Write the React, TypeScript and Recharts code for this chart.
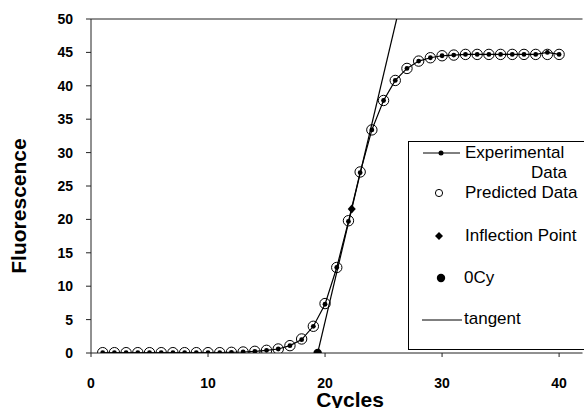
import React from 'react';
import {
  ComposedChart, Line, Scatter, XAxis, YAxis, ReferenceLine, Legend, Label,
} from 'recharts';

const cycles = [1,2,3,4,5,6,7,8,9,10,11,12,13,14,15,16,17,18,19,20,21,22,23,24,25,26,27,28,29,30,31,32,33,34,35,36,37,38,39,40];
const experimental = [0.05,0.05,0.05,0.05,0.05,0.05,0.05,0.05,0.05,0.05,0.05,0.1,0.15,0.25,0.4,0.6,1.1,2.0,4.0,7.3,12.8,19.7,27.0,33.4,37.8,40.8,42.6,43.7,44.2,44.5,44.6,44.7,44.7,44.7,44.7,44.7,44.7,44.7,45.0,44.7];
const predicted = [0.05,0.05,0.05,0.05,0.05,0.05,0.05,0.05,0.05,0.05,0.05,0.1,0.15,0.25,0.4,0.6,1.1,2.1,4.0,7.4,12.8,19.8,27.1,33.4,37.8,40.8,42.6,43.7,44.2,44.5,44.6,44.7,44.7,44.7,44.7,44.7,44.7,44.7,44.7,44.7];
const inflection = { x: 22.28, y: 21.56 };
const zeroCy = { x: 19.37, y: 0 };
const tangentEnd = { x: 26.12, y: 50 };
const xTicks = [0, 10, 20, 30, 40];
const yTicks = [0, 5, 10, 15, 20, 25, 30, 35, 40, 45, 50];

const expData = cycles.map((c, i) => ({ x: c, y: experimental[i] }));
const predData = cycles.map((c, i) => ({ x: c, y: predicted[i] }));
const inflData = [inflection];
const zeroData = [zeroCy];
const tangentData = [zeroCy, tangentEnd];

const FONT = 'Arial, "Liberation Sans", sans-serif';

const OpenCircle = (p: any) => (
  <circle cx={p.cx} cy={p.cy} r={5.2} fill="none" stroke="#000" strokeWidth={1} />
);
const Diamond = (p: any) => (
  <polygon
    points={`${p.cx},${p.cy - 4.5} ${p.cx + 4},${p.cy} ${p.cx},${p.cy + 4.5} ${p.cx - 4},${p.cy}`}
    fill="#000"
  />
);
const FilledDot = (p: any) => <circle cx={p.cx} cy={p.cy} r={4.2} fill="#000" />;

function XTick(p: any) {
  const v = p.payload ? p.payload.value : '';
  return (
    <g transform={`translate(${p.x},${p.y})`}>
      <text x={0} y={0} dy={10} textAnchor="middle" fill="#000" fontSize={14} fontWeight={700} fontFamily={FONT}>
        {v}
      </text>
    </g>
  );
}
function YTick(p: any) {
  const v = p.payload ? p.payload.value : '';
  return (
    <g transform={`translate(${p.x},${p.y})`}>
      <text x={0} y={0} dy={5} textAnchor="end" fill="#000" fontSize={14} fontWeight={700} fontFamily={FONT}>
        {v}
      </text>
    </g>
  );
}

const LegendBox = () => {
  const textStyle: React.CSSProperties = {
    position: 'absolute', fontSize: 17, lineHeight: '20px', color: '#000', whiteSpace: 'nowrap',
  };
  return (
    <div
      style={{
        position: 'relative', width: 176, height: 209, boxSizing: 'border-box',
        borderTop: '1px solid #000', borderLeft: '1px solid #000', borderBottom: '1px solid #000',
        background: '#fff', fontFamily: FONT,
      }}
    >
      <svg width={176} height={209} style={{ position: 'absolute', left: -1, top: -1 }}>
        <line x1={15} y1={12} x2={52} y2={12} stroke="#000" strokeWidth={1} />
        <circle cx={33} cy={12} r={2.5} fill="#000" />
        <circle cx={31} cy={52} r={3.6} fill="none" stroke="#000" strokeWidth={1} />
        <polygon points="31,91 35,95 31,99 27,95" fill="#000" />
        <circle cx={33} cy={137} r={4.2} fill="#000" />
        <line x1={14} y1={179} x2={54} y2={179} stroke="#000" strokeWidth={1} />
      </svg>
      <div style={{ ...textStyle, left: 56, top: 1 }}>Experimental</div>
      <div style={{ ...textStyle, right: 17, top: 21 }}>Data</div>
      <div style={{ ...textStyle, left: 56, top: 41 }}>Predicted Data</div>
      <div style={{ ...textStyle, left: 56, top: 84 }}>Inflection Point</div>
      <div style={{ ...textStyle, left: 55, top: 126 }}>0Cy</div>
      <div style={{ ...textStyle, left: 55, top: 167 }}>tangent</div>
    </div>
  );
};

export default function App() {
  return (
    <div style={{ position: 'absolute', left: 0, top: 0, width: 584, height: 408, background: '#fff' }}>
      <ComposedChart
        width={584}
        height={408}
        margin={{ top: 19, right: 1.5, bottom: 0, left: 0 }}
        style={{ fontFamily: FONT }}
      >
        <XAxis
          type="number"
          dataKey="x"
          domain={[0, 42]}
          ticks={xTicks}
          allowDataOverflow
          height={55}
          tickSize={4}
          tickMargin={21}
          stroke="#222"
          tick={<XTick />}
        >
          <Label
            content={(props: any) => {
              const vb = props.viewBox || { x: 91, y: 353, width: 491.5, height: 55 };
              return (
                <text x={vb.x + 259} y={vb.y + 54} textAnchor="middle" fontSize={21} fontWeight="bold" fill="#000" fontFamily={FONT}>
                  Cycles
                </text>
              );
            }}
          />
        </XAxis>
        <YAxis
          type="number"
          domain={[0, 50]}
          ticks={yTicks}
          allowDataOverflow
          width={91}
          tickSize={5}
          tickMargin={13}
          stroke="#222"
          tick={<YTick />}
        >
          <Label
            content={(props: any) => {
              const vb = props.viewBox || { x: 0, y: 19, width: 91, height: 334 };
              const cx = vb.x + 26;
              const cy = vb.y + vb.height / 2 + 20;
              return (
                <text x={cx} y={cy} transform={`rotate(-90, ${cx}, ${cy})`} textAnchor="middle" fontSize={21} fontWeight="bold" fill="#000" fontFamily={FONT}>
                  Fluorescence
                </text>
              );
            }}
          />
        </YAxis>
        <ReferenceLine y={50} stroke="#222" strokeWidth={1} />
        <Line
          data={tangentData}
          dataKey="y"
          stroke="#000"
          strokeWidth={1.2}
          dot={false}
          activeDot={false}
          isAnimationActive={false}
          legendType="none"
        />
        <Line
          data={expData}
          dataKey="y"
          stroke="#000"
          strokeWidth={1.2}
          dot={{ r: 2.4, fill: '#000', stroke: '#000', strokeWidth: 0 }}
          activeDot={false}
          isAnimationActive={false}
        />
        <Scatter data={predData} dataKey="y" shape={OpenCircle} isAnimationActive={false} />
        <Scatter data={inflData} dataKey="y" shape={Diamond} isAnimationActive={false} />
        <Scatter data={zeroData} dataKey="y" shape={FilledDot} isAnimationActive={false} />
        <Legend
          layout="vertical"
          align="center"
          verticalAlign="middle"
          content={() => <LegendBox />}
          wrapperStyle={{ position: 'absolute', left: 408, top: 141, width: 176, height: 209, right: 'auto', bottom: 'auto', margin: 0 }}
        />
      </ComposedChart>
    </div>
  );
}
